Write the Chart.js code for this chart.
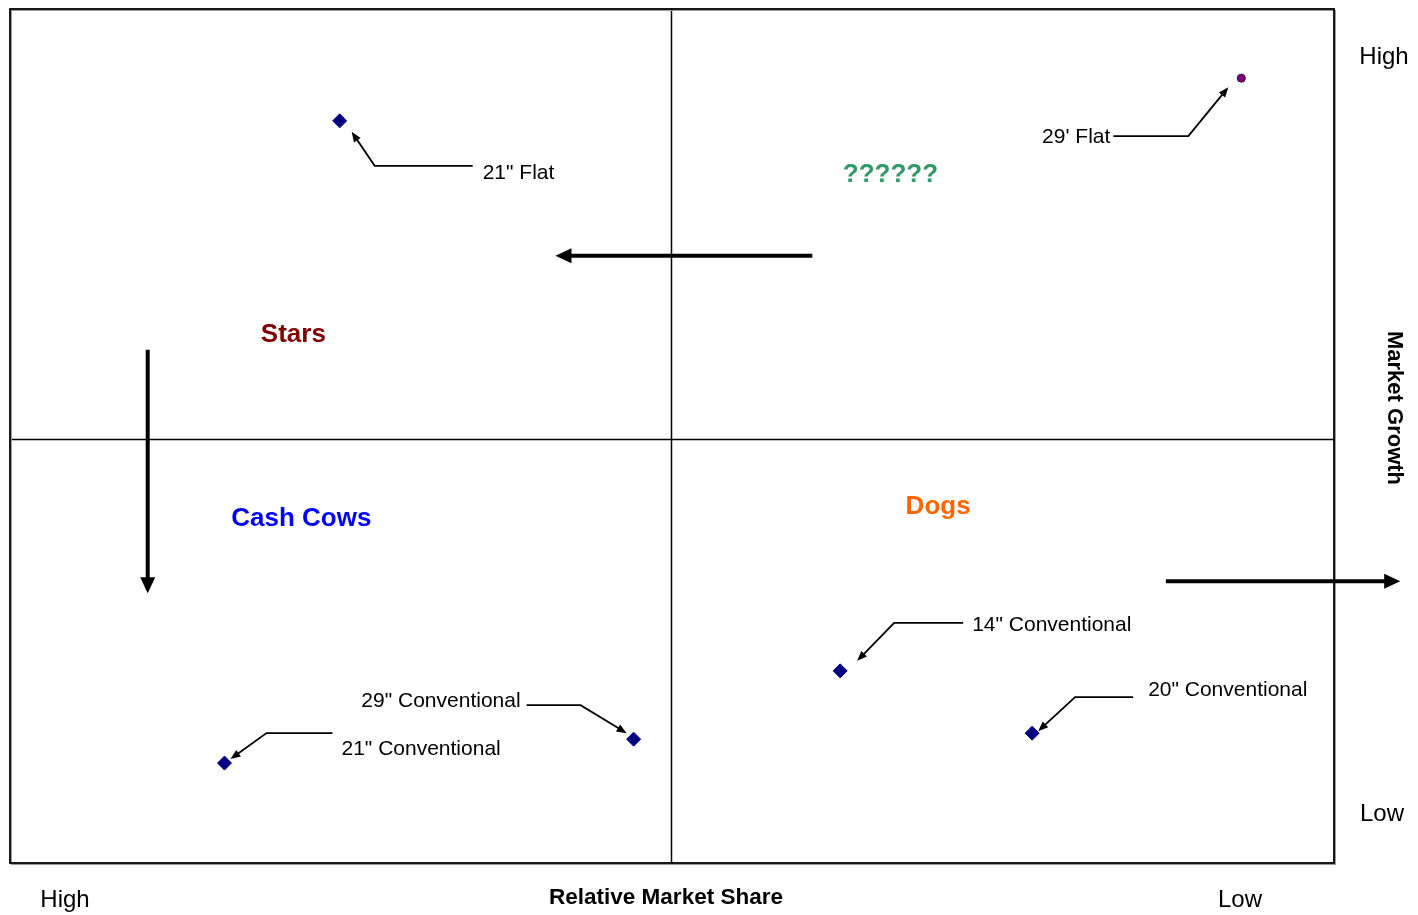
<!DOCTYPE html>
<html>
<head>
<meta charset="utf-8">
<title>BCG Matrix – TV Product Portfolio</title>
<script src="https://cdn.jsdelivr.net/npm/chart.js@4.4.1/dist/chart.umd.min.js"></script>
<style>
  html, body { margin: 0; padding: 0; background: #ffffff; }
  #wrap { width: 1418px; height: 915px; }
</style>
</head>
<body>
<div id="wrap"><canvas id="bcg" width="1418" height="915"></canvas></div>
<script>
// Products placed on the growth-share matrix
const productNames = ['21" Flat', "29' Flat", '29" Conventional', '21" Conventional', '14" Conventional', '20" Conventional'];
const relativeShare = [7.51, 0.70, 5.29, 8.38, 3.73, 2.28];   // 0 = low, 10 = high (high on the left)
const marketGrowth  = [8.69, 9.19, 1.45, 1.17, 2.25, 1.52];   // 0 = low, 10 = high

// Quadrant names
const quadrantNames  = ['Stars', '??????', 'Cash Cows', 'Dogs'];
const quadrantShare  = [7.86, 3.35, 7.80, 2.99];
const quadrantGrowth = [6.19, 8.06, 4.03, 4.17];

// Quadrant dividers
const shareDivider = 5.01;
const growthDivider = 4.965;

// Axis end labels
const axisEndLabels = ['High', 'Low'];
const axisTitles = ['Relative Market Share', 'Market Growth'];

// ---- styling / layout (not data) ----
const quadrantColors = ['#800000', '#339966', '#0000FF', '#FF6600'];
const pointStyles = ['rectRot', 'circle', 'rectRot', 'rectRot', 'rectRot', 'rectRot'];
const pointFills  = ['#000080', '#800080', '#000080', '#000080', '#000080', '#000080'];
const pointBorders = ['#000080', '#330033', '#000080', '#000080', '#000080', '#000080'];
const pointSizes  = [7, 4, 7, 7, 7, 7];

// Callout leader offsets (pixels, relative to each marker)
const callouts = [
  { tip: [12, 11],  elbow: [35, 45],   end: [133, 45],  text: [143, 52],  align: 'left' },
  { tip: [-13, 9],  elbow: [-53, 58],  end: [-128, 58], text: [-131, 59], align: 'right' },
  { tip: [-7, -6],  elbow: [-53, -34], end: [-107, -34], text: [-113, -38], align: 'right' },
  { tip: [6, -4],   elbow: [42, -30],  end: [108, -30], text: [117, -14], align: 'left' },
  { tip: [17, -10], elbow: [54, -48],  end: [123, -48], text: [132, -46], align: 'left' },
  { tip: [6, -2],   elbow: [43, -36],  end: [101, -36], text: [116, -43], align: 'left' }
];

// Strategic movement arrows, in matrix units: [share0, growth0, share1, growth1]
const moveArrows = [
  [3.94, 7.11, 5.88, 7.11],
  [8.96, 6.01, 8.96, 3.16],
  [1.27, 3.30, -0.50, 3.30]
];

function arrowHead(ctx, x0, y0, x1, y1, len, half) {
  const a = Math.atan2(y1 - y0, x1 - x0);
  ctx.beginPath();
  ctx.moveTo(x1, y1);
  ctx.lineTo(x1 - len * Math.cos(a) + half * Math.sin(a), y1 - len * Math.sin(a) - half * Math.cos(a));
  ctx.lineTo(x1 - len * Math.cos(a) - half * Math.sin(a), y1 - len * Math.sin(a) + half * Math.cos(a));
  ctx.closePath();
  ctx.fill();
}

const matrixFrame = {
  id: 'matrixFrame',
  beforeDatasetsDraw(chart) {
    const { ctx, chartArea: a, scales: { x, y } } = chart;
    ctx.save();
    // quadrant dividers
    ctx.strokeStyle = '#000';
    ctx.lineWidth = 1.5;
    const mx = Math.round(x.getPixelForValue(shareDivider)) + 0.5;
    const my = Math.round(y.getPixelForValue(growthDivider)) + 0.5;
    ctx.beginPath();
    ctx.moveTo(mx, a.top); ctx.lineTo(mx, a.bottom);
    ctx.moveTo(a.left, my); ctx.lineTo(a.right, my);
    ctx.stroke();
    // outer frame with a light shadow
    ctx.strokeStyle = '#9a9a9a';
    ctx.lineWidth = 1;
    ctx.strokeRect(a.left + 1.5, a.top + 1.5, a.right - a.left, a.bottom - a.top);
    ctx.strokeStyle = '#000';
    ctx.lineWidth = 1.8;
    ctx.strokeRect(a.left, a.top, a.right - a.left, a.bottom - a.top);
    ctx.restore();
  },
  afterDatasetsDraw(chart) {
    const { ctx, chartArea: a, scales: { x, y } } = chart;
    ctx.save();

    // movement arrows
    ctx.strokeStyle = '#000';
    ctx.fillStyle = '#000';
    ctx.lineWidth = 4;
    moveArrows.forEach(([s0, g0, s1, g1]) => {
      const x0 = x.getPixelForValue(s0), y0 = y.getPixelForValue(g0);
      const x1 = x.getPixelForValue(s1), y1 = y.getPixelForValue(g1);
      const ang = Math.atan2(y1 - y0, x1 - x0);
      ctx.beginPath();
      ctx.moveTo(x0, y0);
      ctx.lineTo(x1 - 14 * Math.cos(ang), y1 - 14 * Math.sin(ang));
      ctx.stroke();
      arrowHead(ctx, x0, y0, x1, y1, 16, 7.5);
    });

    // product callouts
    ctx.lineWidth = 1.8;
    ctx.font = '21px "Liberation Sans", Arial, sans-serif';
    ctx.textBaseline = 'middle';
    productNames.forEach((name, i) => {
      const px = x.getPixelForValue(relativeShare[i]);
      const py = y.getPixelForValue(marketGrowth[i]);
      const c = callouts[i];
      const tx = px + c.tip[0], ty = py + c.tip[1];
      const ex = px + c.elbow[0], ey = py + c.elbow[1];
      const ang = Math.atan2(ty - ey, tx - ex);
      ctx.beginPath();
      ctx.moveTo(px + c.end[0], py + c.end[1]);
      ctx.lineTo(ex, ey);
      ctx.lineTo(tx - 6 * Math.cos(ang), ty - 6 * Math.sin(ang));
      ctx.stroke();
      arrowHead(ctx, ex, ey, tx, ty, 10, 4);
      ctx.textAlign = c.align;
      ctx.fillText(name, px + c.text[0], py + c.text[1]);
    });

    // quadrant names
    ctx.textAlign = 'center';
    ctx.font = 'bold 26px "Liberation Sans", Arial, sans-serif';
    quadrantNames.forEach((q, i) => {
      ctx.fillStyle = quadrantColors[i];
      ctx.fillText(q, x.getPixelForValue(quadrantShare[i]), y.getPixelForValue(quadrantGrowth[i]));
    });

    // axis end labels
    ctx.fillStyle = '#000';
    ctx.font = '24px "Liberation Sans", Arial, sans-serif';
    ctx.textAlign = 'center';
    ctx.fillText(axisEndLabels[0], a.right + 50, a.top + 48);
    ctx.fillText(axisEndLabels[1], a.right + 48, a.bottom - 49);
    ctx.fillText(axisEndLabels[0], a.left + 55, a.bottom + 37);
    ctx.fillText(axisEndLabels[1], a.right - 94, a.bottom + 37);

    // axis titles
    ctx.font = 'bold 22.5px "Liberation Sans", Arial, sans-serif';
    ctx.fillText(axisTitles[0], a.left + 656, a.bottom + 35);
    ctx.save();
    ctx.translate(a.right + 60, (a.top + a.bottom) / 2 - 28);
    ctx.rotate(Math.PI / 2);
    ctx.font = 'bold 22px "Liberation Sans", Arial, sans-serif';
    ctx.fillText(axisTitles[1], 0, 0);
    ctx.restore();

    ctx.restore();
  }
};

new Chart(document.getElementById('bcg'), {
  type: 'scatter',
  data: {
    datasets: [{
      label: 'Products',
      data: productNames.map((n, i) => ({ x: relativeShare[i], y: marketGrowth[i] })),
      pointStyle: pointStyles,
      backgroundColor: pointFills,
      borderColor: pointBorders,
      borderWidth: 1,
      pointRadius: pointSizes,
      pointHoverRadius: pointSizes
    }]
  },
  options: {
    responsive: false,
    animation: false,
    devicePixelRatio: 1,
    layout: { padding: { left: 10, top: 9, right: 84, bottom: 52 } },
    plugins: { legend: { display: false }, tooltip: { enabled: false } },
    scales: {
      x: { type: 'linear', min: 0, max: 10, reverse: true, display: false },
      y: { type: 'linear', min: 0, max: 10, display: false }
    }
  },
  plugins: [matrixFrame]
});
</script>
</body>
</html>
